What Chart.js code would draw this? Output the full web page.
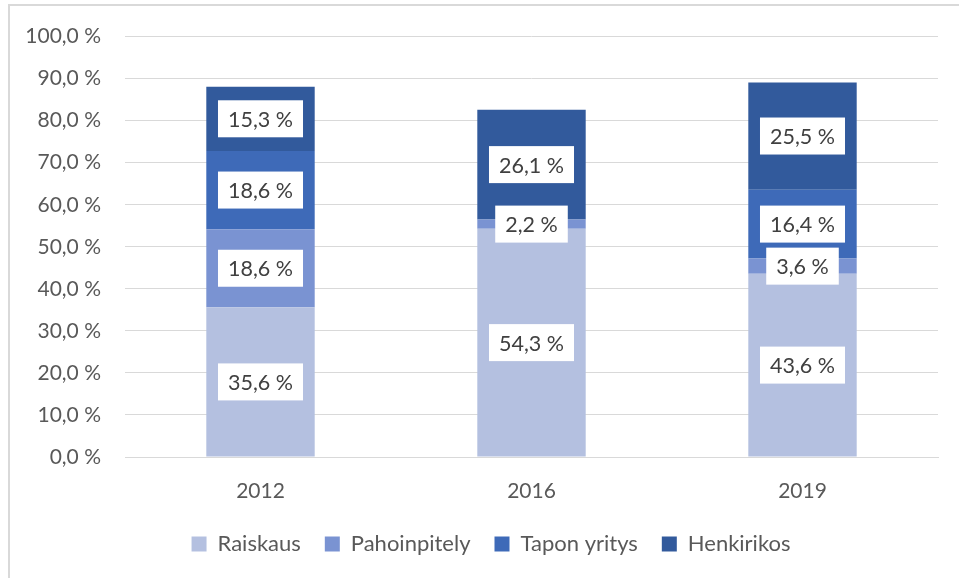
<!DOCTYPE html>
<html>
<head>
<meta charset="utf-8">
<script src="https://cdn.jsdelivr.net/npm/chart.js@4/dist/chart.umd.min.js"></script>
<style>
  html, body { margin: 0; padding: 0; background: #fff; overflow: hidden; }
  #wrap { position: relative; width: 959px; height: 578px; overflow: hidden; }
  #frame { position: absolute; left: 8px; top: 4px; right: 0; bottom: 0; border-left: 2px solid #d9d9d9; border-top: 2px solid #d9d9d9; pointer-events: none; }
</style>
</head>
<body>
<div id="wrap">
  <canvas id="chart" width="959" height="578"></canvas>
  <div id="frame"></div>
</div>
<script>
const years = ["2012", "2016", "2019"];
const raiskaus = [35.6, 54.3, 43.6];
const pahoinpitely = [18.6, 2.2, 3.6];
const taponYritys = [18.6, 0, 16.4];
const henkirikos = [15.3, 26.1, 25.5];

const fmt = (v) => v.toFixed(1).replace(".", ",") + " %";

// white boxed value labels, like Excel data labels
const boxLabels = {
  id: "boxLabels",
  afterLayout(chart) {
    // legend sits a bit right of centre in the original
    chart.legend.left += 22;
    chart.legend.right += 22;
  },
  afterDatasetsDraw(chart) {
    const ctx = chart.ctx;
    ctx.save();
    ctx.font = "21.5px Lato";
    ctx.textAlign = "center";
    ctx.textBaseline = "middle";
    chart.data.datasets.forEach((ds, i) => {
      const meta = chart.getDatasetMeta(i);
      meta.data.forEach((bar, j) => {
        const v = ds.data[j];
        if (!v) return;
        const y = (bar.y + bar.base) / 2;
        const text = fmt(v);
        const w = ctx.measureText(text).width + 20;
        const h = 37;
        ctx.fillStyle = "#ffffff";
        ctx.fillRect(bar.x - w / 2, y - h / 2, w, h);
        ctx.fillStyle = "#404040";
        ctx.fillText(text, bar.x, y + 1);
      });
    });
    ctx.restore();
  }
};

new Chart(document.getElementById("chart").getContext("2d"), {
  type: "bar",
  data: {
    labels: years,
    datasets: [
      { label: "Raiskaus", data: raiskaus, backgroundColor: "#b4c0e0" },
      { label: "Pahoinpitely", data: pahoinpitely, backgroundColor: "#7a93d2" },
      { label: "Tapon yritys", data: taponYritys, backgroundColor: "#3e6ab8" },
      { label: "Henkirikos", data: henkirikos, backgroundColor: "#325a9c" },
    ],
  },
  options: {
    responsive: false,
    animation: false,
    barPercentage: 0.4,
    categoryPercentage: 1,
    layout: { padding: { top: 34, right: 21, bottom: 13, left: 0 } },
    scales: {
      x: {
        stacked: true,
        grid: { display: false },
        border: { color: "#d9d9d9" },
        ticks: { color: "#595959", font: { family: "Lato", size: 21 }, padding: 14 },
        afterFit(s) { s.height = 52; },
      },
      y: {
        stacked: true,
        min: 0,
        max: 100,
        grid: { color: "#d9d9d9", drawTicks: false },
        border: { display: false },
        ticks: {
          stepSize: 10,
          color: "#595959",
          font: { family: "Lato", size: 21 },
          padding: 24,
          callback: (v) => fmt(v),
        },
        afterFit(s) { s.width = 125; },
      },
    },
    plugins: {
      legend: {
        position: "bottom",
        labels: {
          color: "#595959",
          font: { family: "Lato", size: 22 },
          boxWidth: 15,
          boxHeight: 15,
          padding: 24,
        },
      },
      tooltip: { enabled: false },
    },
  },
  plugins: [boxLabels],
});
</script>
</body>
</html>
